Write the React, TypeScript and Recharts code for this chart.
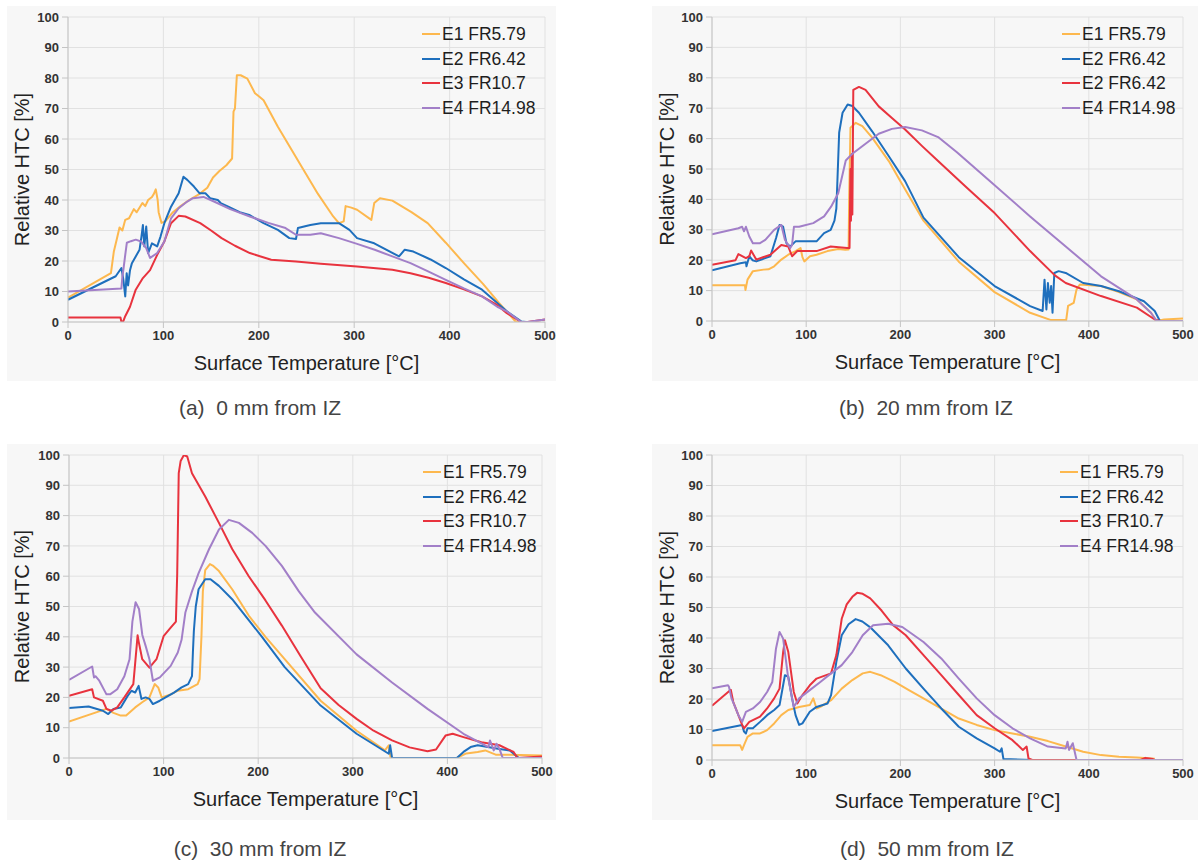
import React from "react";
import { LineChart, Line, XAxis, YAxis, CartesianGrid, Legend, Label } from "recharts";

// ── data ─────────────────────────────────────────────────────────────────────

type Pt = [number, number];

const X_TICKS = [0, 100, 200, 300, 400, 500];
const Y_TICKS = [0, 10, 20, 30, 40, 50, 60, 70, 80, 90, 100];

const NAMES = ["E1 FR5.79", "E2 FR6.42", "E3 FR10.7", "E4 FR14.98"];
// panel (b) has the legend exactly as printed in the source figure
const NAMES_B = ["E1 FR5.79", "E2 FR6.42", "E2 FR6.42", "E4 FR14.98"];
const CAPTIONS = ["(a)  0 mm from IZ", "(b)  20 mm from IZ", "(c)  30 mm from IZ", "(d)  50 mm from IZ"];
const COLORS = ["#fdb84e", "#1e6fbd", "#e8333e", "#a27fc8"];

// (a) 0 mm from IZ
const A_E1: Pt[] = [[0,8],[45,16],[48,23],[51,27],[54,31],[57,30],[60,33.5],[64,34],[69,37],[72,36],[78,39],[81,38],[84,40],[88,41],[90,42],[92,43.5],[94,40],[95,36],[98,32.5],[102,33],[110,36],[118,38],[127,40],[138,42],[146,44],[152,47.4],[159,49.6],[166,51.4],[172,53.6],[173.5,69],[175,70],[177,80.9],[181,80.9],[188,79.8],[196,75],[200,74],[205,72.7],[220,64],[244,51.4],[262,42],[278,34.6],[284,32.4],[289,33],[291,38],[297,37.5],[303,36.8],[318,33.5],[321,39],[327,40.6],[340,39.8],[360,36],[377,32.4],[396,26],[415,19.3],[435,12.5],[452,6.2],[469,0.2],[476,0]];
const A_E2: Pt[] = [[0,7.3],[50,15],[56,17.7],[58,14],[60,8.4],[61.5,16],[63,12],[65,17],[67,19.3],[71,21.5],[75,23.7],[77,28],[78.5,31.8],[80,24.8],[82,31.3],[84,22.6],[88,25.8],[93.5,24.8],[97,28],[101,32.4],[108,37.8],[116,42.2],[121,47.6],[125,46.6],[132,44.4],[138,42.2],[144,42.2],[149,40.6],[157,40],[160,39],[168,37.8],[180,36],[190,35.1],[205,32.4],[220,30.2],[232,27.5],[239,27.2],[241,30.8],[254,31.8],[265,32.4],[284,32.4],[295,30.2],[303,27.5],[321,25.8],[347,21.5],[353,23.7],[362,23.1],[380,20.5],[396,17.7],[415,14],[434,10.6],[460,3.5],[475,0.2],[480,0]];
const A_E3: Pt[] = [[0,1.5],[55,1.5],[56,0],[58,0.3],[60,1.9],[65,5],[71,10.6],[78.5,14.4],[86,17],[93.5,22],[101,26.4],[108,32.4],[116,34.8],[123,34.6],[138.6,32.4],[150,30],[161,27.5],[175,25],[190.6,22.6],[213,20.4],[239,19.8],[265,19.1],[303,18.2],[340,17.1],[359,16],[378,14.5],[396,12.8],[415,10.7],[434,8.4],[450,5.5],[460,2.9],[475,0],[482,0],[500,0.8]];
const A_E4: Pt[] = [[0,10],[56,11],[57,15],[58,17],[60,22],[61.7,26],[66,26.5],[71,27],[76.6,26.4],[82,24.2],[86,21],[93.5,22.6],[101,26.4],[108,34],[116,37.3],[125,39.5],[131,40.6],[142,41],[153,39.5],[170,37],[190.6,34.6],[210,32.5],[228,30.8],[239,28.6],[254,28.6],[265,29.1],[284,27.5],[303,25.6],[321.5,23.7],[340,21.5],[359,19.3],[378,16.5],[396,13.8],[415,11],[434,8.4],[450,5],[460,3.5],[475,0],[482,0],[500,0.8]];

// (b) 20 mm from IZ
const B_E1: Pt[] = [[0,11.8],[35,11.8],[35.5,10.2],[37.7,13.6],[43.4,16.4],[54.7,16.9],[60,17],[66,18],[73.6,20.2],[81,21.8],[88.7,23],[94,24],[96,21],[98,19.6],[104,21.3],[111,21.8],[122.6,23],[134,23.7],[141.5,23.4],[145,23.5],[145.6,40],[147,63.6],[152.6,65.2],[159.6,64.1],[170,60.3],[187.7,52.6],[200,46],[224.5,33],[262,19.5],[300,9.5],[337.7,2.7],[360,0.3],[376,0.3],[378,5],[384,6],[387,10.4],[390.5,12],[413,11.5],[432,9.5],[451,7.1],[466,2.7],[472,0],[480,0.5],[500,0.8]];
const B_E2: Pt[] = [[0,16.7],[30,19],[36,19.3],[36.6,18],[39.6,21.3],[43,20],[47,19.6],[55,20.5],[62,21.3],[68,27.3],[71.7,31.6],[75.5,31],[79,25.6],[83,24.5],[88.7,26.2],[111,26.2],[119,28.9],[126,30],[130,33],[132,37],[133,45],[135,62],[138.6,68.5],[144,71.2],[149,70.7],[156,68.5],[170,62.4],[187.7,54.2],[205,46],[224.5,34],[262,21],[300,11.5],[337.7,4.9],[351,3.3],[353,13.6],[355,3.8],[356.6,12.5],[358.5,6],[360,11.5],[361.5,2.7],[363.4,15.8],[368,16.4],[375.5,15.8],[394,12.5],[413,11.5],[432,9.8],[458.5,6.5],[470,3.3],[475.5,0],[500,0]];
const B_E3: Pt[] = [[0,18.5],[25,20],[28,22],[36,20.7],[39.6,21.3],[41.5,23.2],[47,20.2],[62,21.8],[73.6,25],[81,24.5],[85,21.3],[90.6,23],[111,23],[126,24.5],[143.4,24],[146,24],[147,50],[147.5,33],[148.5,55],[149,35],[150,76],[156,77],[163,76],[177,70.6],[191,66.8],[205,63],[222.8,57.6],[240,52.6],[270,44],[300,35.5],[337.7,23],[364,15],[375.5,12.5],[413,8.2],[451,4.4],[470,0.5],[475,0],[500,0]];
const B_E4: Pt[] = [[0,28.5],[28,30.5],[32,31],[34,29.5],[36,31],[39.6,27.8],[43.4,25.6],[51,25.6],[56.6,26.7],[66,30],[73.6,31.6],[77.4,26.7],[83,24],[85,25],[87,31],[92.5,31],[107.5,32.2],[119,34.4],[126.4,37.6],[134,42],[142,52.8],[149,55],[163,58.3],[177,61.6],[191,63.2],[205,63.8],[222.8,62.7],[240,60.5],[260,55.5],[294,46.3],[337.7,34.4],[375.5,24.5],[413,14.7],[451,7.1],[466,2.7],[472,0],[500,0]];

// (c) 30 mm from IZ
const C_E1: Pt[] = [[0,12],[39.6,16.2],[47,14.9],[54.7,14],[60.4,14],[70,16.7],[77.4,18.4],[85,20],[90.6,24.4],[94.3,23.3],[98,20],[107.5,21],[115,22.2],[126,22.7],[136,24.4],[138,26],[140,40],[141.5,55],[144,62],[149,64],[152,63.5],[158.5,61.7],[172.5,55.7],[190,47],[207.7,40],[228,32.6],[266,18.9],[304,9],[334,2.5],[338,4.2],[340,0],[410,0],[420,1.5],[432,2],[440,2.5],[451,1.1],[477,1],[500,0.8]];
const C_E2: Pt[] = [[0,16.5],[20.7,17],[35.8,15.6],[41.5,14.5],[47,16.2],[54.7,16.7],[62,20.5],[66,22.2],[70,21.6],[73.6,23.8],[76.6,19.5],[81,20],[85,19.5],[88.7,17.8],[96,18.9],[111,21.6],[119,23.3],[126,24.4],[130,27],[131,35],[132,42],[134,50],[137,55.7],[144,59],[149.6,59],[158.5,56.8],[172.5,52.4],[190,45.5],[204,40],[228,30],[266,17.3],[304,8],[338,1.4],[339.5,4.2],[341.5,0],[410,0],[417,2],[424.5,3.6],[432,4.2],[455,3],[466,2.5],[475.5,0],[500,0]];
const C_E3: Pt[] = [[0,20.5],[24.5,22.7],[26.4,20],[35.8,18.9],[39.6,16.2],[45,15.6],[51,16.7],[58.5,20],[68,24.4],[70,31.5],[71.7,37.5],[72.5,40.5],[73.6,38.5],[77.4,32.6],[85,29.8],[92.5,32.6],[100,40.2],[107.5,43],[113,45],[114.4,61],[116,94],[118,98],[121.5,100],[125,99.5],[130,94],[144,86.3],[158.5,77.6],[172.5,69],[190,60],[207.7,52],[225,43.7],[245,33.5],[266,23],[285,17.5],[304,12.9],[322,9],[341.5,5.8],[360,3.5],[379,2.2],[388,2.8],[398,7.4],[405.6,8],[417,6.9],[436,5.2],[455,4.2],[470,2],[474,0],[500,0.5]];
const C_E4: Pt[] = [[0,25.8],[24.5,30.2],[26.4,26.6],[28,27],[32,25.5],[39.6,21],[43.4,21],[51,22.7],[58.5,27],[64,32.6],[67,45],[70.4,51.4],[74,49.2],[77.5,40.6],[81,37],[85,32.6],[88.7,25.5],[96,26.6],[107.5,30.4],[115,34.8],[119,39],[123,48],[130,55],[137,61],[148,68.9],[158.5,75.4],[169,78.6],[179.6,77.6],[193.7,74.3],[207.7,70],[225,63.4],[243,55],[260,48],[304,34.2],[341.5,24.9],[379,16.2],[417,8],[443.4,3.6],[445,5.8],[449,2.5],[452,4.7],[455,3],[458.5,0],[500,0]];

// (d) 50 mm from IZ
const D_E1: Pt[] = [[0,4.8],[30,4.8],[32,3.3],[34,4.9],[37.7,7.6],[43.4,8.7],[51,8.7],[58.5,9.8],[66,12],[73.6,14.7],[81,16.4],[92.5,17.4],[103.8,18],[107.5,20.2],[111,16.9],[115,17.4],[126.4,19.6],[137.7,23.4],[149,26.2],[160,28.4],[168,28.9],[179,27.8],[194,25.6],[209,22.9],[224.5,20.2],[243,16.9],[262,13.6],[281,11.5],[300,9.8],[319,8.7],[337.7,7.6],[356.6,6.2],[375.5,4.4],[394,2.7],[413,1.6],[432,1.1],[451,0.8],[470,0.4]];
const D_E2: Pt[] = [[0,9.5],[32,11.5],[34,9.3],[36,8.7],[37.7,10.4],[43.4,10.4],[51,12.5],[58.5,14.7],[66,16.4],[71.7,18],[75.5,24.5],[77.4,27.8],[81,27.3],[85,20.2],[88.7,14.7],[92.5,11.5],[96,12],[103.8,15.8],[111,17.4],[122.6,18.5],[126.4,21.3],[132,32.2],[137.7,40.9],[145,44.5],[152.5,46.2],[159.6,45.4],[168,43.5],[187,37.6],[205.7,30],[224.5,23.4],[243.4,16.9],[262,10.9],[281,7.1],[300,3.8],[305.7,2.7],[307.5,3.8],[309.4,0.3],[340,0]];
const D_E3: Pt[] = [[0,17.8],[19,22.8],[20,23],[22.6,19],[28,14.7],[32,11.5],[34,10.4],[39.6,12.5],[51,14.2],[58.5,16.9],[66,20.2],[71.7,23.4],[75.5,35.4],[77.4,39.3],[81,35.4],[86.8,22.3],[90.6,18.5],[96,21.3],[103.8,24.5],[111,26.7],[119,27.6],[126.4,28.4],[132,34.4],[137.7,46.3],[143,51],[149,53.5],[154,54.8],[160,54.5],[168,53],[180,49],[192,44.3],[205.7,40.9],[224.5,34.4],[243.4,27.8],[262,21.3],[281,14.7],[300,10.4],[319,6.5],[330,3.3],[334,4.4],[336,0.5],[340,0],[455,0],[460,0.7],[468,0.3],[470,0]];
const D_E4: Pt[] = [[0,23.5],[17,24.5],[18,24],[20.7,20.2],[24.5,17.4],[28,14.7],[32,12.5],[36,15.8],[43.4,16.9],[51,19],[58.5,22.3],[64,25.6],[67.9,36.5],[71.7,42],[75.5,39.8],[81,26.7],[86.8,17.4],[92.5,20.2],[103.8,22.9],[115,25.6],[126.4,28.4],[137.7,31.1],[149,35.4],[160,40.9],[171,44.2],[187,44.7],[202,43.6],[224.5,38.7],[243.4,33.3],[262,26.7],[281,20.2],[300,14.7],[319,10.4],[337.7,7.1],[356.6,4.4],[375.5,3.8],[377.4,6],[379,3.3],[383,5.5],[387,0],[500,0]];

// ── layout ───────────────────────────────────────────────────────────────────

const FONT = '"Liberation Sans", Arial, Helvetica, sans-serif';
const Y_AXIS_W = 40;
const X_AXIS_H = 30;

const PANELS = [
  { box: { x: 7, y: 6, w: 549, h: 375 }, plot: { x0: 68, x1: 545, y0: 17, y1: 322 }, names: NAMES, series: [A_E1, A_E2, A_E3, A_E4], capX: 260, capY: 408, legX: 422 },
  { box: { x: 652, y: 6, w: 546, h: 375 }, plot: { x0: 712, x1: 1183, y0: 17, y1: 321 }, names: NAMES_B, series: [B_E1, B_E2, B_E3, B_E4], capX: 926, capY: 408, legX: 1062 },
  { box: { x: 7, y: 444, w: 549, h: 376 }, plot: { x0: 69, x1: 542, y0: 455, y1: 758 }, names: NAMES, series: [C_E1, C_E2, C_E3, C_E4], capX: 260, capY: 849, legX: 423 },
  { box: { x: 652, y: 444, w: 546, h: 376 }, plot: { x0: 712, x1: 1183, y0: 455, y1: 760 }, names: NAMES, series: [D_E1, D_E2, D_E3, D_E4], capX: 927, capY: 849, legX: 1060 },
];

const toRows = (pts: Pt[]) => pts.map(([x, y]) => ({ x, y }));

function Panel({ cfg, caption }: { cfg: (typeof PANELS)[number]; caption: string }) {
  const { box, plot } = cfg;
  const margin = {
    top: plot.y0 - box.y,
    right: box.x + box.w - plot.x1,
    left: plot.x0 - box.x - Y_AXIS_W,
    bottom: box.y + box.h - plot.y1 - X_AXIS_H,
  };
  // chart-local coordinates for the axis titles
  const midX = (plot.x0 + plot.x1) / 2 - box.x;
  const midY = (plot.y0 + plot.y1) / 2 - box.y;
  const xTitleY = plot.y1 - box.y + 41;
  const yTitleX = 15;

  const tick = { fontSize: 13, fontWeight: "bold", fill: "#333", fontFamily: FONT, style: { fontWeight: 700 } };

  return (
    <>
      <div style={{ position: "absolute", left: box.x, top: box.y, width: box.w, height: box.h, background: "#f7f7f7" }}>
        <LineChart width={box.w} height={box.h} margin={margin}>
          <CartesianGrid stroke="#e1e1e1" strokeWidth={1} />
          <XAxis
            type="number"
            dataKey="x"
            domain={[0, 500]}
            ticks={X_TICKS}
            height={X_AXIS_H}
            tick={tick}
            tickSize={6}
            tickMargin={3}
            axisLine={{ stroke: "#c4c4c4" }}
            tickLine={{ stroke: "#c4c4c4" }}
            allowDataOverflow
          >
            <Label
              content={() => (
                <text x={midX} y={xTitleY} textAnchor="middle" dominantBaseline="central" fontSize={20} fill="#222" fontFamily={FONT}>
                  Surface Temperature [°C]
                </text>
              )}
            />
          </XAxis>
          <YAxis
            type="number"
            domain={[0, 100]}
            ticks={Y_TICKS}
            width={Y_AXIS_W}
            tick={tick}
            tickSize={6}
            tickMargin={3}
            axisLine={{ stroke: "#c4c4c4" }}
            tickLine={{ stroke: "#c4c4c4" }}
            allowDataOverflow
          >
            <Label
              content={() => (
                <text
                  x={yTitleX}
                  y={midY}
                  transform={`rotate(-90, ${yTitleX}, ${midY})`}
                  textAnchor="middle"
                  dominantBaseline="central"
                  fontSize={20}
                  fill="#222"
                  fontFamily={FONT}
                >
                  Relative HTC [%]
                </text>
              )}
            />
          </YAxis>
          <Legend
            layout="vertical"
            align="center"
            verticalAlign="middle"
            wrapperStyle={{ left: cfg.legX - box.x, top: plot.y0 - box.y + 5, width: "auto", height: "auto" }}
            content={(props: any) => (
              <div style={{ fontFamily: FONT }}>
                {(props.payload || []).map((p: any, i: number) => (
                  <div key={i} style={{ display: "flex", alignItems: "center", height: 24.6 }}>
                    <span style={{ display: "inline-block", width: 18, height: 2, background: p.color, marginRight: 2 }} />
                    <span style={{ fontSize: 17.5, color: "#1e1e1e", lineHeight: "20px" }}>{p.value}</span>
                  </div>
                ))}
              </div>
            )}
          />
          {cfg.series.map((s, i) => (
            <Line
              key={i}
              data={toRows(s)}
              dataKey="y"
              name={cfg.names[i]}
              type="linear"
              stroke={COLORS[i]}
              strokeWidth={2}
              strokeLinejoin="round"
              dot={false}
              activeDot={false}
              isAnimationActive={false}
            />
          ))}
        </LineChart>
      </div>
      <div
        style={{
          position: "absolute",
          left: cfg.capX - 160,
          width: 320,
          top: cfg.capY - 13,
          textAlign: "center",
          fontFamily: FONT,
          fontSize: 21,
          color: "#444",
          whiteSpace: "pre",
          lineHeight: "26px",
        }}
      >
        {caption}
      </div>
    </>
  );
}

export default function App() {
  return (
    <div style={{ position: "absolute", left: 0, top: 0, width: 1200, height: 865, background: "#fff", overflow: "hidden" }}>
      {PANELS.map((cfg, i) => (
        <Panel key={i} cfg={cfg} caption={CAPTIONS[i]} />
      ))}
    </div>
  );
}
